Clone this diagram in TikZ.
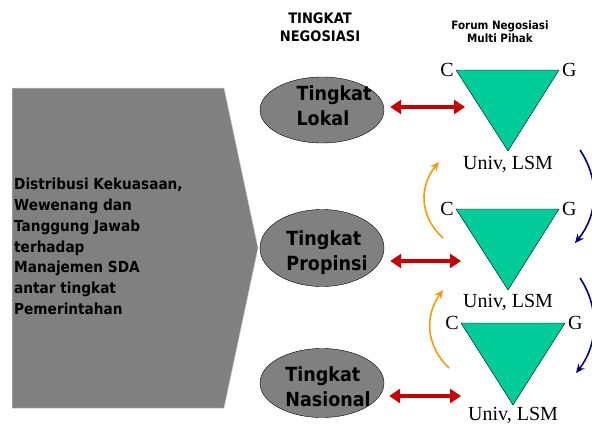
\documentclass[tikz,border=0pt]{standalone}
\usepackage{fontspec}
\setmainfont{DejaVu Sans Condensed}
\newfontfamily\serifface{Liberation Serif}
\usetikzlibrary{positioning, arrows.meta, shapes.geometric}

\definecolor{forumgreen}{HTML}{00CC99}
\definecolor{linkred}{HTML}{CC0000}
\definecolor{upflow}{HTML}{FF9900}
\definecolor{downflow}{HTML}{000080}

\begin{document}
\begin{tikzpicture}[
  x=1pt, y=-1pt,
  every node/.style = {font=\bfseries},
  level/.style = {draw, ellipse, fill=gray, minimum width=124pt, inner sep=0pt},
  leveltext/.style = {align=left, font=\bfseries\fontsize{19.5}{25}\selectfont, inner sep=0pt},
  forum/.style = {draw=black, fill=forumgreen, line width=0.4pt},
  actor/.style = {font=\serifface\fontsize{20}{22}\selectfont, inner sep=1pt},
  link/.style = {{Triangle[length=11pt, width=14pt]}-{Triangle[length=11pt, width=14pt]}, linkred, line width=3.4pt},
  up/.style = {-{Stealth[length=9pt, width=8pt]}, upflow, line width=1.6pt},
  down/.style = {-{Stealth[length=9pt, width=8pt]}, downflow, line width=1.6pt}
]
\useasboundingbox (0,0) rectangle (592,426);

% --- Titles
\node[align=center, font=\bfseries\fontsize{14.5}{18}\selectfont] (ttingkat) at (320,27) {TINGKAT\\NEGOSIASI};
\node[align=center, font=\bfseries\fontsize{11.5}{13}\selectfont] (tforum) at (500,32) {Forum Negosiasi\\Multi Pihak};

% --- Distribution arrow
\fill[gray, draw=gray!40, line width=0.5pt] (12,88) -- (224,88) -- (258,248) -- (224,408) -- (12,408) -- cycle;
\node[anchor=north west, align=left, font=\bfseries\fontsize{15.2}{20.8}\selectfont, inner sep=0pt] (distribusi) at (14,178)
  {Distribusi Kekuasaan,\\Wewenang dan\\Tanggung Jawab\\terhadap\\Manajemen SDA\\antar tingkat\\Pemerintahan};

% --- Negotiation levels
\node[level, minimum height=66pt] (lokal) at (322,110) {};
\node[level, minimum height=77pt] (propinsi) at (322,248) {};
\node[level, minimum height=69pt] (nasional) at (322,383) {};
\node[leveltext] (lokaltext) at ([xshift=12pt, yshift=4pt]lokal.center) {Tingkat\\Lokal};
\node[leveltext] (propinsitext) at ([xshift=5pt, yshift=-5pt]propinsi.center) {Tingkat\\Propinsi};
\node[leveltext] (nasionaltext) at ([xshift=6pt, yshift=-4pt]nasional.center) {Tingkat\\Nasional};

% --- Forum triangles
\draw[forum] (456,70) coordinate (lokC) -- (559,70) coordinate (lokG) -- (508,151) coordinate (lokU) -- cycle;
\draw[forum] (456,209) coordinate (proC) -- (559,209) coordinate (proG) -- (508,290) coordinate (proU) -- cycle;
\draw[forum] (461,323) coordinate (nasC) -- (565,323) coordinate (nasG) -- (513,405) coordinate (nasU) -- cycle;

\node[actor, left=1pt of lokC] (lokc) {C};
\node[actor, right=2pt of lokG] (lokg) {G};
\node[actor, below=4pt of lokU] (loku) {Univ, LSM};
\node[actor, left=1pt of proC] (proc) {C};
\node[actor, right=2pt of proG] (prog) {G};
\node[actor, below=3pt of proU] (prou) {Univ, LSM};
\node[actor, left=1pt of nasC] (nasc) {C};
\node[actor, right=2pt of nasG] (nasg) {G};
\node[actor, below=1pt of nasU] (nasu) {Univ, LSM};

% --- Links level <-> forum
\coordinate (lokL) at (465,107);
\coordinate (proL) at (461,261);
\coordinate (nasL) at (461,396);
\draw[link] (lokal.east) ++(6,-3) coordinate (lokR) -- (lokL);
\draw[link] (propinsi.east) ++(6,13) coordinate (proR) -- (proL);
\draw[link] (nasional.east) ++(5,13) coordinate (nasR) -- (nasL);

% --- Flows between forums
\coordinate (up1a) at (443,238);
\coordinate (up1b) at (439,162);
\coordinate (up2a) at (449,368);
\coordinate (up2b) at (443,290);
\draw[up] (up1a) .. controls (418,215) and (420,185) .. (up1b);
\draw[up] (up2a) .. controls (425,345) and (425,315) .. (up2b);

\coordinate (dn1a) at (580,150);
\coordinate (dn1b) at (575,243);
\coordinate (dn2a) at (580,278);
\coordinate (dn2b) at (576,373);
\draw[down] (dn1a) .. controls (600,180) and (598,215) .. (dn1b);
\draw[down] (dn2a) .. controls (600,308) and (598,345) .. (dn2b);

\end{tikzpicture}
\end{document}
